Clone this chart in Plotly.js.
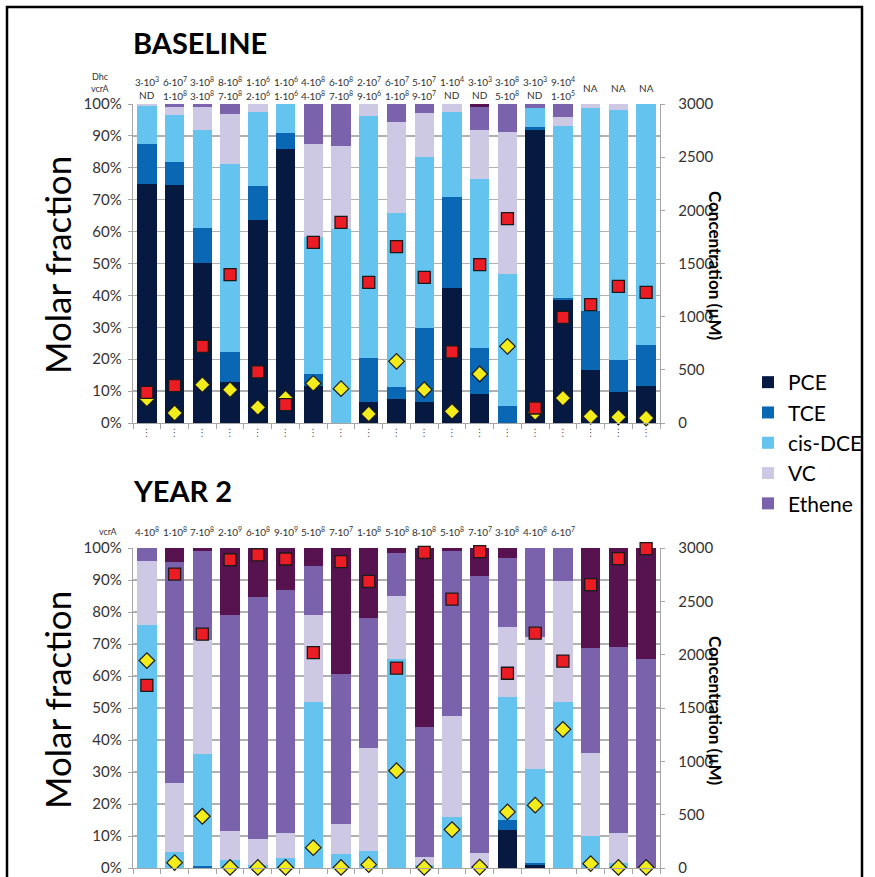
<!DOCTYPE html>
<html>
<head>
<meta charset="utf-8">
<script src="https://cdn.plot.ly/plotly-3.0.1.min.js"></script>
<style>html,body{margin:0;padding:0;background:#fff;}#chart{width:875px;height:877px;}</style>
</head>
<body>
<div id="chart"></div>
<script>
// ---------- data ----------
const samples = ['W1','W2','W3','W4','W5','W6','W7','W8','W9','W10','W11','W12','W13','W14','W15','W16','W17','W18','W19'];
const sampleMarks = ['⋮','⋮','⋮','⋮','⋮','⋮','⋮','⋮','⋮','⋮','⋮','⋮','⋮','⋮','⋮','⋮','⋮','⋮','⋮'];

// BASELINE molar fractions (%)
const basePCE    = [75, 74.5, 50.2, 12.9, 63.7, 85.9, 11.5, 0, 6.6, 7.6, 6.6, 42.3, 9.1, 0, 91.7, 38.7, 16.5, 9.6, 11.7];
const baseTCE    = [12.5, 7.2, 10.9, 9.3, 10.6, 5.0, 3.9, 0, 13.8, 3.6, 23.2, 28.5, 14.4, 5.2, 1.1, 0.5, 18.7, 10.3, 12.9];
const baseDCE    = [12.0, 15.0, 30.9, 59.1, 23.1, 9.1, 42.9, 60.8, 75.7, 54.6, 53.6, 26.6, 53.0, 41.6, 5.9, 53.8, 63.5, 78.1, 75.4];
const baseVC     = [0.5, 2.4, 7.1, 15.6, 2.6, 0, 29.2, 25.9, 3.9, 28.5, 13.8, 2.6, 15.2, 44.3, 0, 2.8, 1.3, 2.0, 0];
const baseEthene = [0, 0.9, 0.9, 3.1, 0, 0, 12.5, 13.3, 0, 5.7, 2.8, 0, 7.3, 8.9, 1.3, 4.2, 0, 0, 0];
const baseEthane = [0, 0, 0, 0, 0, 0, 0, 0, 0, 0, 0, 0, 1.0, 0, 0, 0, 0, 0, 0];
// BASELINE concentrations (µM)
const baseConcSquare  = [288, 351, 721, 1395, 480, 172, 1699, 1887, 1323, 1658, 1370, 668, 1489, 1922, 141, 994, 1113, 1285, 1229];
const baseConcDiamond = [226, 94, 360, 313, 147, 235, 373, 323, 85, 580, 313, 110, 461, 721, 100, 235, 63, 56, 47];
// BASELINE gene copies
const baseDhc  = ['3·10<sup>3</sup>','6·10<sup>7</sup>','3·10<sup>8</sup>','8·10<sup>8</sup>','1·10<sup>6</sup>','1·10<sup>6</sup>','4·10<sup>8</sup>','6·10<sup>8</sup>','2·10<sup>7</sup>','6·10<sup>7</sup>','5·10<sup>7</sup>','1·10<sup>4</sup>','3·10<sup>3</sup>','3·10<sup>8</sup>','3·10<sup>3</sup>','9·10<sup>4</sup>','NA','NA','NA'];
const baseVcrA = ['ND','1·10<sup>8</sup>','3·10<sup>8</sup>','7·10<sup>8</sup>','2·10<sup>6</sup>','1·10<sup>6</sup>','4·10<sup>8</sup>','7·10<sup>8</sup>','9·10<sup>6</sup>','1·10<sup>8</sup>','9·10<sup>7</sup>','ND','ND','5·10<sup>8</sup>','ND','1·10<sup>5</sup>','','',''];

// YEAR 2 molar fractions (%)
const y2PCE    = [0, 0, 0, 0, 0, 0, 0, 0, 0, 0, 0, 0, 0, 12.0, 0.8, 0, 0, 0, 0];
const y2TCE    = [0, 0, 0.5, 0, 0, 0, 0, 0, 0, 0, 0, 0, 0, 3.1, 0.8, 0, 0, 0, 0];
const y2DCE    = [76, 5, 35.1, 2.4, 0.8, 3.2, 52, 4.3, 5.2, 65.2, 0.8, 16, 0, 38.4, 29.2, 52, 10, 1.6, 0];
const y2VC     = [20, 21.7, 35.7, 9.1, 8.4, 7.8, 27.1, 9.3, 32.2, 19.7, 2.6, 31.5, 4.8, 21.8, 41.3, 37.8, 25.8, 9.2, 0];
const y2Ethene = [4, 68.8, 27.7, 67.5, 75.4, 76, 15.2, 46.9, 40.7, 13.5, 40.8, 51.5, 86.5, 21.6, 27.9, 10.2, 33.1, 58.4, 65.2];
const y2Ethane = [0, 4.5, 1, 21, 15.4, 13, 5.7, 39.5, 21.9, 1.6, 55.8, 1, 8.7, 3.1, 0, 0, 31.1, 30.8, 34.8];
// YEAR 2 concentrations (µM)
const y2ConcSquare  = [1713, 2756, 2192, 2890, 2935, 2897, 2020, 2872, 2687, 1873, 2959, 2521, 2966, 1826, 2202, 1939, 2656, 2900, 2994];
const y2ConcDiamond = [1945, 50, 485, 5, 5, 5, 191, 5, 31, 912, 5, 360, 9, 526, 589, 1300, 41, 5, 5];
// YEAR 2 gene copies
const y2VcrA = ['4·10<sup>8</sup>','1·10<sup>8</sup>','7·10<sup>8</sup>','2·10<sup>9</sup>','6·10<sup>8</sup>','9·10<sup>9</sup>','5·10<sup>8</sup>','7·10<sup>7</sup>','1·10<sup>8</sup>','5·10<sup>8</sup>','8·10<sup>8</sup>','5·10<sup>8</sup>','7·10<sup>7</sup>','3·10<sup>8</sup>','4·10<sup>8</sup>','6·10<sup>7</sup>','','',''];

const compounds = ['PCE','TCE','cis-DCE','VC','Ethene','Ethane'];

// ---------- styling ----------
const W = 875, H = 877;
const px = v => v / W;
const py = v => (H - v) / H;
const FONT = 'Lato, "Open Sans", sans-serif';
const colors = {'PCE':'#061941','TCE':'#0a67b3','cis-DCE':'#64c4ef','VC':'#cdc9e5','Ethene':'#7a62ad','Ethane':'#56134f'};
const xDom = [px(133), px(660)];
const topDom = [py(423), py(104)];
const botDom = [py(868), py(548)];

const baseSeries = [basePCE, baseTCE, baseDCE, baseVC, baseEthene, baseEthane];
const y2Series = [y2PCE, y2TCE, y2DCE, y2VC, y2Ethene, y2Ethane];

const traces = [];
compounds.forEach((c, i) => {
  traces.push({type:'bar', x:samples, y:baseSeries[i], name:c, xaxis:'x', yaxis:'y',
    marker:{color:colors[c], line:{width:0}}, legendgroup:c, showlegend:c !== 'Ethane'});
});
compounds.forEach((c, i) => {
  traces.push({type:'bar', x:samples, y:y2Series[i], name:c, xaxis:'x2', yaxis:'y2',
    marker:{color:colors[c], line:{width:0}}, legendgroup:c, showlegend:false});
});
const sq = {symbol:'square', size:12, color:'#ec1c24', line:{color:'#1a1a1a', width:1.3}};
const dm = {symbol:'diamond', size:12, color:'#f2ec1a', line:{color:'#1a1a1a', width:1.2}};
traces.push({type:'scatter', mode:'markers', x:samples, y:baseConcDiamond, xaxis:'x', yaxis:'y3', marker:dm, showlegend:false, cliponaxis:false, name:'conc. (diamond)'});
traces.push({type:'scatter', mode:'markers', x:samples, y:baseConcSquare, xaxis:'x', yaxis:'y3', marker:sq, showlegend:false, cliponaxis:false, name:'conc. (square)'});
traces.push({type:'scatter', mode:'markers', x:samples, y:y2ConcDiamond, xaxis:'x2', yaxis:'y4', marker:dm, showlegend:false, cliponaxis:false, name:'conc. (diamond)'});
traces.push({type:'scatter', mode:'markers', x:samples, y:y2ConcSquare, xaxis:'x2', yaxis:'y4', marker:sq, showlegend:false, cliponaxis:false, name:'conc. (square)'});

const axisGrey = '#a6a6a6';
const xCommon = {type:'category', domain:xDom, range:[-0.5, 18.5], showline:true, linecolor:axisGrey, linewidth:1.3,
  ticks:'outside', tickson:'boundaries', ticklen:5, tickcolor:axisGrey, showgrid:false, zeroline:false, fixedrange:true};
const yLeft = {range:[0,100], dtick:10, ticksuffix:'%', showline:true, linecolor:axisGrey, linewidth:1.3,
  ticks:'outside', ticklen:4, tickcolor:axisGrey, gridcolor:'#b0b0b0', gridwidth:1.3, zeroline:false,
  tickfont:{family:FONT, size:15, color:'#333'}, ticklabelstandoff:3};
const yRight = {range:[0,3000], dtick:500, side:'right', showline:true, linecolor:axisGrey, linewidth:1.3,
  ticks:'outside', ticklen:4, tickcolor:axisGrey, showgrid:false, zeroline:false,
  tickfont:{family:FONT, size:15, color:'#333'}, ticklabelstandoff:10};

const annotations = [];
const ann = (o) => annotations.push(Object.assign({showarrow:false, font:{family:FONT, size:10, color:'#333'}}, o));
ann({text:'<b>BASELINE</b>', xref:'paper', yref:'paper', x:px(131), y:py(43), xanchor:'left', yanchor:'middle', font:{family:FONT, size:29, color:'#000'}});
ann({text:'<b>YEAR 2</b>', xref:'paper', yref:'paper', x:px(131), y:py(490), xanchor:'left', yanchor:'middle', font:{family:FONT, size:29, color:'#000'}});
ann({text:'Molar fraction', xref:'paper', yref:'paper', x:px(57), y:py(265), textangle:-90, xanchor:'center', yanchor:'middle', font:{family:FONT, size:35, color:'#000'}});
ann({text:'Molar fraction', xref:'paper', yref:'paper', x:px(57), y:py(700), textangle:-90, xanchor:'center', yanchor:'middle', font:{family:FONT, size:35, color:'#000'}});
ann({text:'<b>Concentration (µM)</b>', xref:'paper', yref:'paper', x:px(716), y:py(265), textangle:90, xanchor:'center', yanchor:'middle', font:{family:FONT, size:17, color:'#000'}});
ann({text:'<b>Concentration (µM)</b>', xref:'paper', yref:'paper', x:px(716), y:py(710), textangle:90, xanchor:'center', yanchor:'middle', font:{family:FONT, size:17, color:'#000'}});
ann({text:'Dhc', xref:'paper', yref:'paper', x:px(100), y:py(77), xanchor:'center', yanchor:'middle', font:{family:FONT, size:9, color:'#333'}});
ann({text:'vcrA', xref:'paper', yref:'paper', x:px(100), y:py(89), xanchor:'center', yanchor:'middle', font:{family:FONT, size:9, color:'#333'}});
ann({text:'vcrA', xref:'paper', yref:'paper', x:px(108), y:py(531), xanchor:'center', yanchor:'middle', font:{family:FONT, size:9, color:'#333'}});
samples.forEach((s, i) => {
  if (baseVcrA[i] === '') {
    ann({text:baseDhc[i], xref:'x', yref:'paper', x:s, y:py(88), xanchor:'center', yanchor:'middle'});
  } else {
    ann({text:baseDhc[i], xref:'x', yref:'paper', x:s, y:py(81), xanchor:'center', yanchor:'middle'});
    ann({text:baseVcrA[i], xref:'x', yref:'paper', x:s, y:py(95), xanchor:'center', yanchor:'middle'});
  }
  if (y2VcrA[i] !== '') {
    ann({text:y2VcrA[i], xref:'x2', yref:'paper', x:s, y:py(531), xanchor:'center', yanchor:'middle'});
  }
});

const layout = {
  width:W, height:H, margin:{l:0, r:0, t:0, b:0}, paper_bgcolor:'#fff', plot_bgcolor:'rgba(0,0,0,0)',
  barmode:'stack', bargap:0.3, font:{family:FONT, color:'#333'},
  xaxis:Object.assign({}, xCommon, {anchor:'y', tickmode:'array', tickvals:samples, ticktext:sampleMarks,
    tickfont:{family:'DejaVu Sans', size:10, color:'#555'}}),
  xaxis2:Object.assign({}, xCommon, {anchor:'y2', showticklabels:false}),
  yaxis:Object.assign({}, yLeft, {domain:topDom, anchor:'x'}),
  yaxis2:Object.assign({}, yLeft, {domain:botDom, anchor:'x2'}),
  yaxis3:Object.assign({}, yRight, {overlaying:'y', anchor:'x'}),
  yaxis4:Object.assign({}, yRight, {overlaying:'y2', anchor:'x2'}),
  showlegend:true,
  legend:{x:px(748), y:py(362), xanchor:'left', yanchor:'top', traceorder:'grouped', tracegroupgap:0,
    font:{family:FONT, size:21, color:'#000'}, bgcolor:'rgba(0,0,0,0)', borderwidth:0},
  annotations:annotations,
  shapes:[{type:'rect', xref:'paper', yref:'paper', x0:px(7), x1:px(862), y0:-0.05, y1:py(7), line:{color:'#000', width:2.5}, fillcolor:'rgba(0,0,0,0)'}]
};

Plotly.newPlot('chart', traces, layout, {displayModeBar:false, staticPlot:true});
</script>
</body>
</html>
